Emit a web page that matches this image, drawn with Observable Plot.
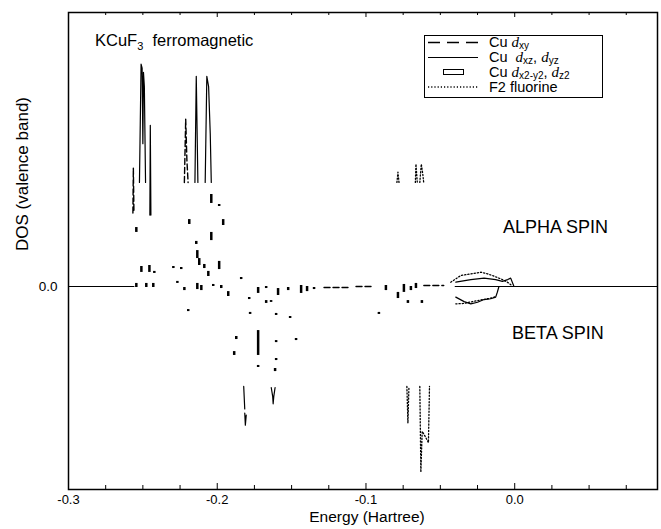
<!DOCTYPE html>
<html>
<head>
<meta charset="utf-8">
<script src="https://cdn.jsdelivr.net/npm/d3@7"></script>
<script src="https://cdn.jsdelivr.net/npm/@observablehq/plot@0.6"></script>
<style>
  body { margin: 0; background: #fff; }
  #wrap { position: relative; width: 661px; height: 529px; font-family: "Liberation Sans", Arial, sans-serif; color: #000; }
  #wrap > svg.plot { position: absolute; left: 0; top: 0; }
  .ann { position: absolute; white-space: nowrap; line-height: 1; }
  .lg { position: absolute; white-space: nowrap; line-height: 13px; font-size: 14.5px; height: 13px; }
  .lg i { font-family: "Liberation Serif", serif; font-size: 15px; line-height: 0; }
  .lg sub { font-size: 10px; vertical-align: -1.5px; line-height: 0; }
  .ann sub { font-size: 11px; vertical-align: -4px; line-height: 0; }
</style>
</head>
<body>
<div id="wrap"></div>
<script>
// ---- data (Energy in Hartree, DOS in arbitrary units; alpha > 0, beta < 0; null = gap) ----
const majorTicks = [-0.3, -0.2, -0.1, 0.0];
const minorTicks = [-0.275, -0.25, -0.225, -0.175, -0.15, -0.125, -0.075, -0.05, -0.025, 0.025, 0.05, 0.075];

// Cu d_xy (dashed)
const dxyE = [-0.2567,-0.2564,-0.2560,null,-0.2221,-0.2212,-0.2204,-0.2196,null,-0.1282,-0.1121,null,-0.1067,-0.0966,null,-0.0611,-0.0477];
const dxyV = [0.36,0.58,0.36,null,0.51,0.82,0.62,0.51,null,-0.005,-0.005,null,0.0,0.0,null,0.005,0.005];

// Cu d_xz, d_yz (solid)
const dxzE = [-0.3,-0.256,null,
  -0.2523,-0.2512,-0.2505,-0.2500,-0.2496,-0.2490,-0.2482,null,
  -0.2453,-0.2450,-0.2446,null,
  -0.2150,-0.2141,-0.2130,null,
  -0.2081,-0.2070,-0.2058,-0.2047,-0.2040,null,
  -0.1822,-0.1815,null,-0.1815,-0.1811,-0.1805,null,
  -0.1637,-0.1627,-0.1624,-0.1620,-0.1611,null,
  -0.0396,-0.0295,-0.0206,-0.0128,-0.0083,-0.0047,-0.0027,-0.0005,null,
  -0.0396,-0.0340,-0.0295,-0.0250,-0.0206,-0.0161,-0.0128,-0.0117,-0.0106,null,
  -0.040,0.096];
const dxzV = [0,0,null,
  0.51,1.09,1.07,0.70,1.05,0.98,0.51,null,
  0.35,0.79,0.35,null,
  0.51,1.03,0.51,null,
  0.51,1.03,0.98,0.75,0.51,null,
  -0.49,-0.60,null,-0.62,-0.68,-0.63,null,
  -0.495,-0.54,-0.575,-0.54,-0.495,null,
  0.021,0.034,0.041,0.034,0.025,0.034,0.041,0.0,null,
  -0.052,-0.074,-0.085,-0.077,-0.064,-0.060,-0.052,-0.028,0.0,null,
  0,0];

// Cu d_x2-y2, d_z2 (short blocks)
const fragE = [-0.2040,-0.2141,-0.2134,-0.2121,-0.1987,-0.2087,-0.2060,-0.2423,-0.2295,-0.2242,-0.2268,-0.2221,-0.2134,-0.2107,-0.2027,-0.1973,-0.1926,-0.1839,-0.1785,-0.1725,-0.1671,-0.1671,-0.1638,-0.1591,-0.1523,-0.1436,-0.1396,-0.1349,-0.0866,-0.0785,-0.0745,-0.0698,-0.0664,-0.0718,-0.0624,-0.0913,-0.2195,-0.1779,-0.1604,-0.1510,-0.1470,-0.1872,-0.1725,-0.1886,-0.1604,-0.1725,-0.1604,-0.1611,-0.2544,-0.2188,-0.2040,-0.1987,-0.1960,-0.2510,-0.2456,-0.2544,-0.2477,-0.2430];
const fragTop = [0.265,0.221,0.176,0.137,0.123,0.108,0.074,0.074,0.098,0.093,0.025,-0.005,0.015,0.005,0.010,0.005,-0.025,0.044,-0.054,-0.005,0.0,-0.069,-0.069,-0.010,-0.005,0.005,0.0,-0.005,0.005,-0.029,0.010,0.0,0.015,-0.069,-0.069,-0.127,-0.113,-0.127,-0.132,-0.147,-0.255,-0.245,-0.216,-0.319,-0.265,-0.387,-0.353,-0.402,0.289,0.328,0.451,0.402,0.328,0.098,0.103,0.015,0.015,0.015];
const fragBot = [0.225,0.206,0.137,0.103,0.083,0.088,0.049,0.064,0.088,0.083,0.015,-0.020,-0.015,-0.020,0.0,-0.010,-0.049,0.034,-0.064,-0.034,-0.010,-0.083,-0.078,-0.044,-0.020,-0.034,-0.025,-0.015,-0.020,-0.059,-0.029,-0.020,-0.010,-0.083,-0.083,-0.137,-0.123,-0.137,-0.142,-0.157,-0.265,-0.260,-0.338,-0.338,-0.275,-0.397,-0.363,-0.417,0.265,0.304,0.407,0.392,0.299,0.069,0.069,-0.005,-0.005,-0.005];

// F2 fluorine (dotted)
const f2E = [-0.0792,-0.0785,-0.0778,null,-0.0668,-0.0664,-0.0655,null,-0.0638,-0.0628,-0.0618,-0.0612,null,
  -0.0430,-0.0362,-0.0295,-0.0228,-0.0183,-0.0139,-0.0083,-0.0049,-0.0020,null,
  -0.0396,-0.0340,-0.0284,-0.0228,-0.0161,-0.0128,null,
  -0.0725,-0.0718,-0.0711,null,
  -0.0638,-0.0631,-0.0622,-0.0598,-0.0580,-0.0573];
const f2V = [0.51,0.56,0.51,null,0.51,0.60,0.51,null,0.51,0.60,0.55,0.51,null,
  0.021,0.054,0.062,0.070,0.062,0.051,0.034,0.021,0.005,null,
  -0.085,-0.083,-0.074,-0.066,-0.057,-0.050,null,
  -0.49,-0.67,-0.49,null,
  -0.49,-0.91,-0.71,-0.74,-0.765,-0.49];

// ---- build ----
const pts = (E, V) => E.map((e, i) => ({E: e, V: V[i]}));
const frags = fragE.map((e, i) => ({E: e, top: fragTop[i], bot: fragBot[i]}));

const W = 661, H = 529, mT = 12, mB = 40, mL = 68, mR = 4;
const FH = H - mT - mB;

const chart = Plot.plot({
  width: W, height: H,
  marginLeft: mL, marginRight: mR, marginTop: mT, marginBottom: mB,
  x: {domain: [-0.3, 0.096]},
  y: {domain: [-0.995, 1.343]},
  style: {fontFamily: "'Liberation Sans', Arial, sans-serif", color: "#000", background: "#fff"},
  marks: [
    Plot.axisX({ticks: majorTicks, tickSize: 0, tickPadding: 5, tickFormat: d => d.toFixed(1), fontSize: 13, label: null}),
    Plot.axisY({ticks: [0], tickSize: 0, tickPadding: 11, tickFormat: d => d.toFixed(1), fontSize: 13.5, label: null}),
    Plot.ruleX(majorTicks, {insetTop: FH - 6, stroke: "#000"}),
    Plot.ruleX(minorTicks, {insetTop: FH - 4, stroke: "#000"}),
    Plot.ruleX(majorTicks, {insetBottom: FH - 5, stroke: "#000"}),
    Plot.ruleX(minorTicks, {insetBottom: FH - 3, stroke: "#000"}),
    Plot.ruleX(frags, {x: "E", y1: "top", y2: "bot", stroke: "#000", strokeWidth: 2.5}),
    Plot.line(pts(dxzE, dxzV), {x: "E", y: "V", stroke: "#000", strokeWidth: 1.2}),
    Plot.line(pts(dxyE, dxyV), {x: "E", y: "V", stroke: "#000", strokeWidth: 1.4, strokeDasharray: "6,3"}),
    Plot.line(pts(f2E, f2V), {x: "E", y: "V", stroke: "#000", strokeWidth: 1.3, strokeDasharray: "1.2,2"}),
    Plot.frame({stroke: "#000", strokeWidth: 1.5}),
    Plot.text(["Energy (Hartree)"], {frameAnchor: "bottom", text: d => d, dy: 32, dx: 4, fontSize: 15.5}),
    Plot.text(["DOS (valence band)"], {frameAnchor: "left", text: d => d, dx: -46, rotate: -90, fontSize: 17})
  ]
});
chart.classList.add("plot");
const wrap = document.getElementById("wrap");
wrap.appendChild(chart);

// annotations
wrap.insertAdjacentHTML("beforeend", `
  <div class="ann" style="left:95px;top:32px;font-size:16.5px;">KCuF<sub>3</sub>&nbsp; ferromagnetic</div>
  <div class="ann" style="left:503px;top:218px;font-size:18px;">ALPHA SPIN</div>
  <div class="ann" style="left:512px;top:324px;font-size:18px;">BETA SPIN</div>
  <svg style="position:absolute;left:424px;top:35px;" width="180" height="64">
    <rect x="0.5" y="0.5" width="178" height="62" fill="#fff" stroke="#000" stroke-width="1"/>
    <line x1="4" x2="54" y1="7.5" y2="7.5" stroke="#000" stroke-width="1.4" stroke-dasharray="12,7"/>
    <line x1="4" x2="54" y1="22.5" y2="22.5" stroke="#000" stroke-width="1.2"/>
    <rect x="19.5" y="34.5" width="20" height="5" fill="none" stroke="#000" stroke-width="1"/>
    <line x1="4" x2="54" y1="52" y2="52" stroke="#000" stroke-width="1.3" stroke-dasharray="1.2,2"/>
  </svg>
  <div class="lg" style="left:489px;top:36px;">Cu <i>d</i><sub>xy</sub></div>
  <div class="lg" style="left:489px;top:51px;">Cu&nbsp; <i>d</i><sub>xz</sub>, <i>d</i><sub>yz</sub></div>
  <div class="lg" style="left:489px;top:66px;">Cu <i>d</i><sub>x2-y2</sub>, <i>d</i><sub>z2</sub></div>
  <div class="lg" style="left:489px;top:81px;">F2 fluorine</div>
`);
</script>
</body>
</html>
